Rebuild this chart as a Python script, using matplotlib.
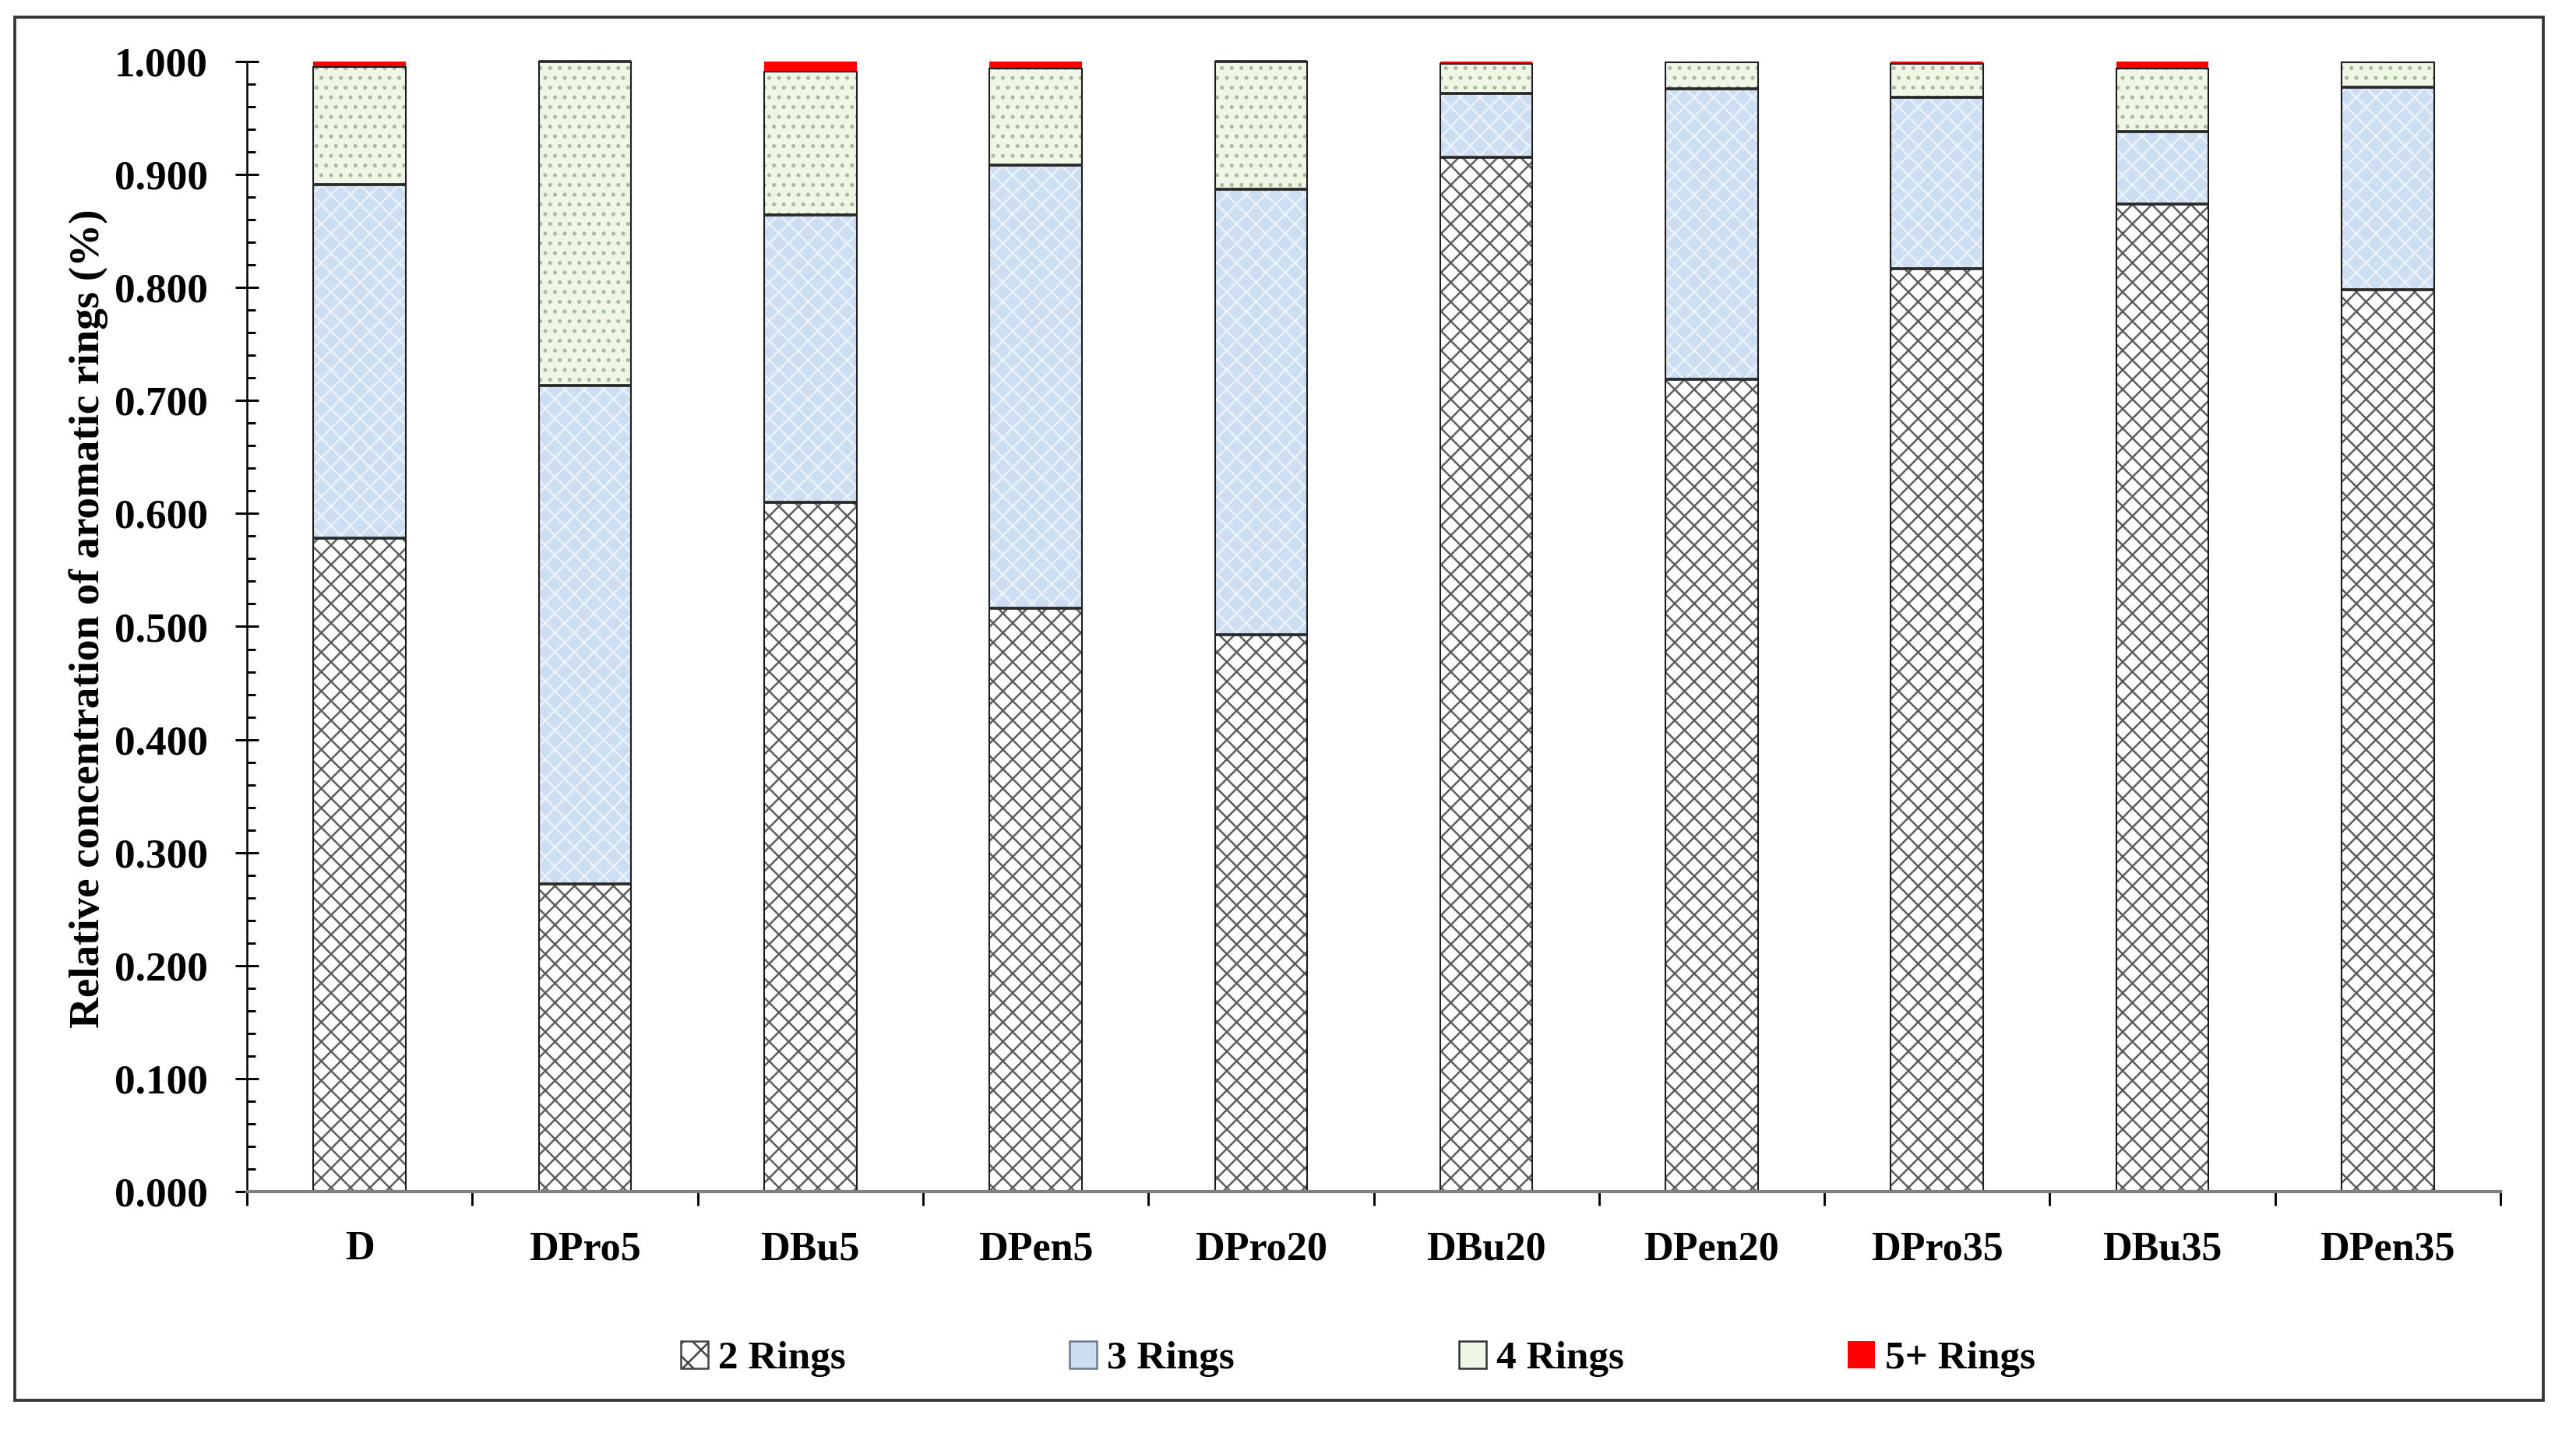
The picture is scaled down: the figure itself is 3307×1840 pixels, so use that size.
import matplotlib
matplotlib.use('Agg')
import matplotlib.pyplot as plt
import numpy as np
from matplotlib.patches import Patch, Rectangle
from matplotlib.ticker import MultipleLocator, FixedLocator, NullFormatter

# ---------------- data ----------------
categories = ['D', 'DPro5', 'DBu5', 'DPen5', 'DPro20', 'DBu20',
              'DPen20', 'DPro35', 'DBu35', 'DPen35']
rings2 = [0.578, 0.272, 0.610, 0.516, 0.493, 0.915, 0.719, 0.817, 0.874, 0.798]
rings3 = [0.313, 0.441, 0.254, 0.392, 0.394, 0.057, 0.257, 0.151, 0.064, 0.179]
rings4 = [0.104, 0.287, 0.127, 0.086, 0.113, 0.026, 0.023, 0.030, 0.056, 0.022]
rings5 = [0.005, 0.000, 0.009, 0.006, 0.000, 0.002, 0.001, 0.002, 0.006, 0.001]
series_labels = ['2 Rings', '3 Rings', '4 Rings', '5+ Rings']
ytick_values = [0.0, 0.1, 0.2, 0.3, 0.4, 0.5, 0.6, 0.7, 0.8, 0.9, 1.0]
ytick_labels = ['0.000', '0.100', '0.200', '0.300', '0.400', '0.500',
                '0.600', '0.700', '0.800', '0.900', '1.000']
ylabel_text = 'Relative concentration of aromatic rings (%)'

# ---------------- style ----------------
plt.rcParams['font.family'] = ['Liberation Serif', 'DejaVu Serif']
plt.rcParams['font.weight'] = 'bold'
plt.rcParams['hatch.linewidth'] = 0.6

W, H, DPI = 3307, 1840, 300
fig = plt.figure(figsize=(W / DPI, H / DPI), dpi=DPI)
fig.patch.set_facecolor('white')

ax_left, ax_right, ax_bottom, ax_top = 317 / W, 3210 / W, 1 - 1530 / H, 1 - 79 / H
ax = fig.add_axes([ax_left, ax_bottom, ax_right - ax_left, ax_top - ax_bottom])

x = np.arange(len(categories))
bw = 0.41
r2 = np.array(rings2)
r3 = np.array(rings3)
r4 = np.array(rings4)
r5 = np.array(rings5)
b3 = r2
b4 = r2 + r3
b5 = r2 + r3 + r4

hatch2_col = '#5e5e5e'
fill3 = '#cddef3'
hatch3_col = '#eaf2fb'
fill4 = '#eff6e6'
hatch4_col = '#a9b99b'
outline = '#1e1e1e'

# 2 rings: white with diamond cross-hatch
ax.bar(x, r2, bw, color='white', edgecolor=hatch2_col, hatch='xxxx', lw=0, clip_on=False, zorder=2)
# 3 rings: light blue with light diamond pattern
ax.bar(x, r3, bw, bottom=b3, color=fill3, edgecolor=hatch3_col, hatch='xxxx', lw=0, clip_on=False, zorder=2)
# 4 rings: pale green with small dots
ax.bar(x, r4, bw, bottom=b4, color=fill4, edgecolor=hatch4_col, hatch='....', lw=0, clip_on=False, zorder=2)
# 5+ rings: red
ax.bar(x, r5, bw, bottom=b5, color='#ff0000', lw=0, clip_on=False, zorder=3)

# outlines
for vals, bot in [(r2, None), (r3, b3), (r4, b4)]:
    ax.bar(x, vals, bw, bottom=bot, fill=False, edgecolor=outline, lw=0.5, clip_on=False, zorder=4)
# segment boundaries (darker)
for tops in [b3, b4]:
    ax.hlines(tops, x - bw / 2, x + bw / 2, colors='#2a2a2a', lw=0.9, zorder=5, clip_on=False)
ax.hlines(b5[r5 == 0], (x - bw / 2)[r5 == 0], (x + bw / 2)[r5 == 0], colors='#2a2a2a', lw=0.9, zorder=5, clip_on=False)

ax.set_xlim(-0.5, len(categories) - 0.5)
ax.set_ylim(0, 1.0)

for s in ['top', 'right']:
    ax.spines[s].set_visible(False)
ax.spines['left'].set_color('black')
ax.spines['left'].set_linewidth(0.6)
ax.spines['bottom'].set_color('#808080')
ax.spines['bottom'].set_linewidth(1.0)
ax.spines['left'].set_zorder(6)
ax.spines['bottom'].set_zorder(6)

# y ticks
ax.yaxis.set_major_locator(FixedLocator(ytick_values))
ax.set_yticklabels(ytick_labels)
ax.yaxis.set_minor_locator(MultipleLocator(0.02))
ax.tick_params(axis='y', which='major', direction='inout', length=7, width=0.7,
               color='black', labelsize=12.8, pad=8.5)
ax.tick_params(axis='y', which='minor', direction='in', length=2.6, width=0.7, color='black')

# x ticks: boundaries as major ticks, labels as minor ticks
ax.xaxis.set_major_locator(FixedLocator(np.arange(len(categories) + 1) - 0.5))
ax.xaxis.set_major_formatter(NullFormatter())
ax.xaxis.set_minor_locator(FixedLocator(x))
ax.set_xticklabels(categories, minor=True)
ax.tick_params(axis='x', which='major', direction='out', length=4.3, width=0.7, color='black')
ax.tick_params(axis='x', which='minor', length=0, labelsize=12.5, pad=12)

ax.set_ylabel(ylabel_text, fontsize=13.2, fontweight='bold')
ax.yaxis.set_label_coords(-0.0615, 0.507)

# legend
handles = [
    Patch(facecolor='white', edgecolor='#444444', hatch='xxx', lw=0.6),
    Patch(facecolor=fill3, edgecolor='#6b7b8e', lw=0.6),
    Patch(facecolor=fill4, edgecolor='#333333', lw=0.6),
    Patch(facecolor='#ff0000', edgecolor='none', lw=0),
]
fig.legend(handles, series_labels, loc='center left', bbox_to_anchor=(874 / W, 1 - 1745 / H),
           ncol=4, frameon=False, fontsize=12.3, handlelength=0.68, handleheight=0.68,
           handletextpad=0.25, columnspacing=5.62, borderpad=0, borderaxespad=0)

# outer frame
fig.add_artist(Rectangle((19 / W, 1 - 1798 / H), (3265 - 19) / W, (1798 - 22) / H,
                         transform=fig.transFigure, fill=False, edgecolor='#333333', lw=0.9))

fig.savefig('out.png', dpi=DPI, facecolor='white')
